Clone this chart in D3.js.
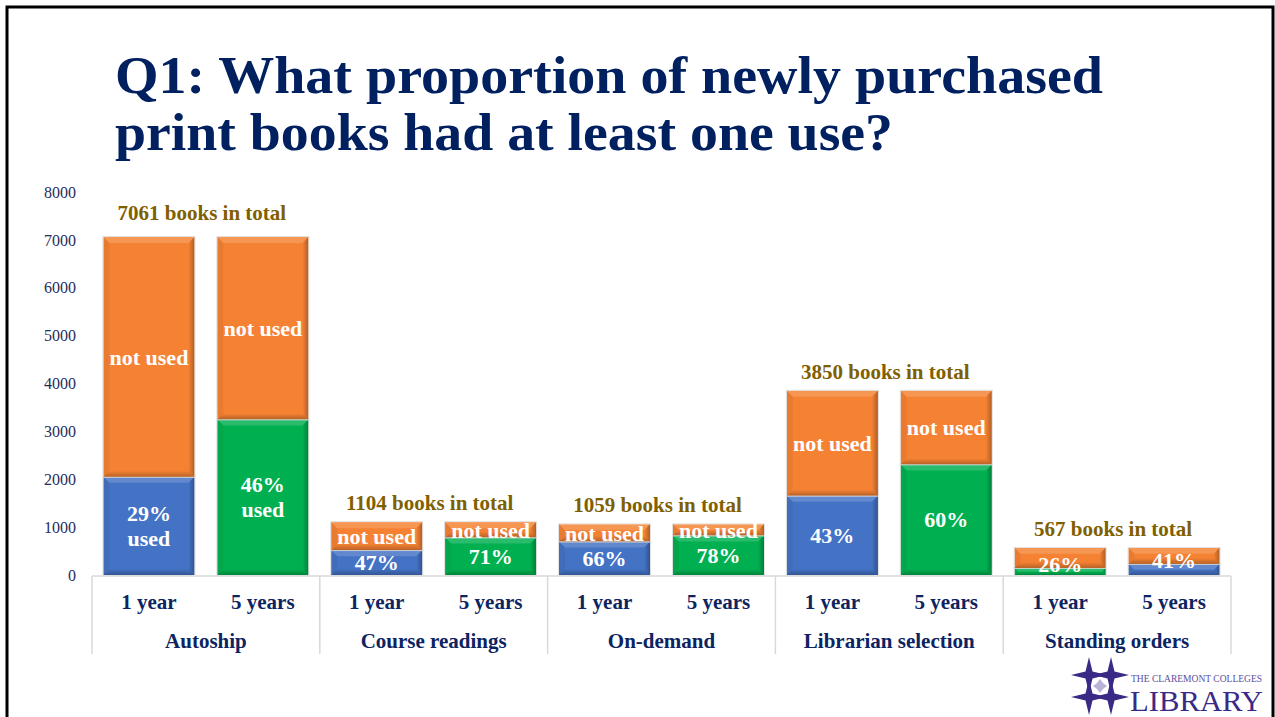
<!DOCTYPE html>
<html>
<head>
<meta charset="utf-8">
<script src="https://cdn.jsdelivr.net/npm/d3@7"></script>
<style>
  body { margin: 0; background: #fff; }
  svg { display: block; }
  text { font-family: "Liberation Serif", "Times New Roman", serif; }
</style>
</head>
<body>
<svg id="chart" width="1275" height="717"></svg>
<script>
// chart values
var groups = ["Autoship", "Course readings", "On-demand", "Librarian selection", "Standing orders"];
var periods = ["1 year", "5 years"];
var totals = [7061, 1104, 1059, 3850, 567];
// books with at least one use, [1 year, 5 years]
var usedCounts = [[2050, 3250], [519, 784], [699, 826], [1656, 2310], [147, 232]];
var usedLabels = [["29%|used", "46%|used"], ["47%", "71%"], ["66%", "78%"], ["43%", "60%"], ["26%", "41%"]];
var usedColors = [["blue", "green"], ["blue", "green"], ["blue", "green"], ["blue", "green"], ["green", "blue"]];
var showNotUsed = [true, true, true, true, false];
var yTicks = [0, 1000, 2000, 3000, 4000, 5000, 6000, 7000, 8000];

var palette = { blue: "#4472C4", green: "#00B050", orange: "#F58233" };
var navy = "#0C2461";

var svg = d3.select("#chart");

// slide frame
svg.append("rect")
    .attr("x", 7).attr("y", 7)
    .attr("width", 1266).attr("height", 800)
    .attr("fill", "none")
    .attr("stroke", "#000")
    .attr("stroke-width", 3);

// title
var title = ["Q1: What proportion of newly purchased", "print books had at least one use?"];
var titleWidths = [988, 778];
svg.selectAll(".title")
    .data(title)
  .enter().append("text")
    .attr("class", "title")
    .attr("x", 115)
    .attr("y", function(d, i) { return 93 + i * 57; })
    .attr("textLength", function(d, i) { return titleWidths[i]; })
    .attr("lengthAdjust", "spacingAndGlyphs")
    .style("font-size", "53px")
    .style("font-weight", "bold")
    .style("fill", "#002060")
    .text(function(d) { return d; });

var margin = {left: 92, right: 1231, top: 192, bottom: 575};

var y = d3.scaleLinear()
    .domain([0, 8000])
    .range([margin.bottom, margin.top]);

var x0 = d3.scaleBand()
    .domain(groups)
    .range([margin.left, margin.right]);

var x1 = d3.scaleBand()
    .domain(periods)
    .range([0, x0.bandwidth()])
    .paddingInner(0.2)
    .paddingOuter(0.1);

// y axis, labels only
var yAxis = d3.axisLeft(y)
    .tickValues(yTicks)
    .tickFormat(d3.format("d"))
    .tickSize(0)
    .tickPadding(16);

var gy = svg.append("g")
    .attr("transform", "translate(" + margin.left + ",0)")
    .call(yAxis);
gy.select(".domain").remove();
gy.selectAll("text")
    .style("font-family", "'Liberation Serif', serif")
    .style("font-size", "16px")
    .style("fill", "#1F2D5A");

// x axis line and group dividers
svg.append("line")
    .attr("x1", margin.left).attr("x2", margin.right)
    .attr("y1", y(0) + 1).attr("y2", y(0) + 1)
    .style("stroke", "#D9D9D9")
    .style("stroke-width", 1.5);

var dividers = groups.map(function(g) { return x0(g); }).concat([margin.right]);
svg.selectAll(".divider")
    .data(dividers)
  .enter().append("line")
    .attr("class", "divider")
    .attr("x1", function(d) { return d; })
    .attr("x2", function(d) { return d; })
    .attr("y1", y(0) + 1)
    .attr("y2", 654)
    .style("stroke", "#D9D9D9")
    .style("stroke-width", 1.5);

// build a flat list of bars
var bars = [];
groups.forEach(function(g, gi) {
  periods.forEach(function(p, pi) {
    bars.push({
      group: g, period: p, gi: gi, pi: pi,
      total: totals[gi],
      used: usedCounts[gi][pi],
      usedLabel: usedLabels[gi][pi],
      color: palette[usedColors[gi][pi]],
      notUsedLabel: showNotUsed[gi]
    });
  });
});

// soft shading for the bevel
var defs = svg.append("defs");
var gh = defs.append("linearGradient").attr("id", "bevelH")
    .attr("x1", 0).attr("x2", 1).attr("y1", 0).attr("y2", 0);
gh.append("stop").attr("offset", 0).attr("stop-color", "#000").attr("stop-opacity", 0);
gh.append("stop").attr("offset", 1).attr("stop-color", "#000").attr("stop-opacity", 0.28);
var gv = defs.append("linearGradient").attr("id", "bevelV")
    .attr("x1", 0).attr("x2", 0).attr("y1", 0).attr("y2", 1);
gv.append("stop").attr("offset", 0).attr("stop-color", "#000").attr("stop-opacity", 0);
gv.append("stop").attr("offset", 1).attr("stop-color", "#000").attr("stop-opacity", 0.25);

// draw a bevelled rectangle
function bevelRect(sel, x, y0, w, h, fill) {
  var b = Math.min(6, h / 2);
  var g = sel.append("g");
  g.append("rect")
      .attr("x", x).attr("y", y0)
      .attr("width", w).attr("height", h)
      .attr("fill", fill);
  var x2 = x + w, y2 = y0 + h;
  var edges = [
    {pts: [[x, y0], [x2, y0], [x2 - b, y0 + b], [x + b, y0 + b]], c: "#fff", o: 0.16},
    {pts: [[x, y0], [x + b, y0 + b], [x + b, y2 - b], [x, y2]], c: "#000", o: 0.05}
  ];
  g.selectAll("polygon")
      .data(edges)
    .enter().append("polygon")
      .attr("points", function(d) { return d.pts.join(" "); })
      .attr("fill", function(d) { return d.c; })
      .attr("fill-opacity", function(d) { return d.o; });
  g.append("polygon")
      .attr("points", [[x2, y0], [x2, y2], [x2 - b, y2 - b], [x2 - b, y0 + b]].join(" "))
      .attr("fill", "url(#bevelH)");
  g.append("polygon")
      .attr("points", [[x, y2], [x + b, y2 - b], [x2 - b, y2 - b], [x2, y2]].join(" "))
      .attr("fill", "url(#bevelV)");
  g.append("rect")
      .attr("x", x - 0.5).attr("y", y0 - 0.5)
      .attr("width", w + 1).attr("height", h + 1)
      .attr("fill", "none")
      .attr("stroke", "#DCDCDC")
      .attr("stroke-width", 0.8);
}

var barG = svg.append("g");
bars.forEach(function(d) {
  var bx = x0(d.group) + x1(d.period);
  var bw = x1.bandwidth();
  // used part
  bevelRect(barG, bx, y(d.used), bw, y(0) - y(d.used), d.color);
  // not used part
  bevelRect(barG, bx, y(d.total), bw, y(d.used) - y(d.total), palette.orange);
});

// labels inside the bars
var labelStyle = function(t) {
  t.attr("text-anchor", "middle")
   .style("font-size", "22px")
   .style("font-weight", "bold")
   .style("fill", "#fff");
};

bars.forEach(function(d) {
  var cx = x0(d.group) + x1(d.period) + x1.bandwidth() / 2;
  if (d.notUsedLabel) {
    var my = (y(d.total) + y(d.used)) / 2;
    svg.append("text")
        .call(labelStyle)
        .attr("x", cx)
        .attr("y", my)
        .attr("dy", "0.35em")
        .text("not used");
  }
  var lines = d.usedLabel.split("|");
  var uy = (y(d.used) + y(0)) / 2;
  if (d.gi === 4) uy = y(d.used) - 4;
  var t = svg.append("text")
      .call(labelStyle)
      .attr("x", cx)
      .attr("y", uy - (lines.length - 1) * 12.5)
      .attr("dy", "0.35em");
  lines.forEach(function(l, i) {
    t.append("tspan")
        .attr("x", cx)
        .attr("dy", i === 0 ? "0.35em" : "25")
        .text(l);
  });
});

// totals above each group
svg.selectAll(".total")
    .data(groups)
  .enter().append("text")
    .attr("class", "total")
    .attr("x", function(d) { return x0(d) + x0.bandwidth() / 2 - 4; })
    .attr("y", function(d, i) { return y(totals[i]) - (i === 0 ? 17 : 12); })
    .attr("text-anchor", "middle")
    .style("font-size", "21px")
    .style("font-weight", "bold")
    .style("fill", "#7F6000")
    .text(function(d, i) { return totals[i] + " books in total"; });

// period labels
svg.selectAll(".period")
    .data(bars)
  .enter().append("text")
    .attr("class", "period")
    .attr("x", function(d) { return x0(d.group) + x1(d.period) + x1.bandwidth() / 2; })
    .attr("y", 609)
    .attr("text-anchor", "middle")
    .style("font-size", "21px")
    .style("font-weight", "bold")
    .style("fill", navy)
    .text(function(d) { return d.period; });

// group labels
svg.selectAll(".group")
    .data(groups)
  .enter().append("text")
    .attr("class", "group")
    .attr("x", function(d) { return x0(d) + x0.bandwidth() / 2; })
    .attr("y", 648)
    .attr("text-anchor", "middle")
    .style("font-size", "21px")
    .style("font-weight", "bold")
    .style("fill", navy)
    .text(function(d) { return d; });

// library logo
var logo = svg.append("g").attr("transform", "translate(1100,686)");
var starPts = function(cx, cy, r, w) {
  return [[cx, cy - r], [cx + w, cy - w], [cx + r, cy], [cx + w, cy + w],
          [cx, cy + r], [cx - w, cy + w], [cx - r, cy], [cx - w, cy - w]].join(" ");
};
[[-11, -11], [11, -11], [-11, 11], [11, 11]].forEach(function(p) {
  logo.append("polygon")
      .attr("points", starPts(p[0], p[1], 18, 3.5))
      .attr("fill", "#3A2A86");
});
logo.append("polygon")
    .attr("points", starPts(0, 0, 7, 3))
    .attr("fill", "#B9B3D6");
svg.append("text")
    .attr("x", 1131).attr("y", 682)
    .attr("textLength", 131)
    .attr("lengthAdjust", "spacingAndGlyphs")
    .style("font-size", "10px")
    .style("fill", "#5C4F9E")
    .text("THE CLAREMONT COLLEGES");
svg.append("text")
    .attr("x", 1130).attr("y", 711)
    .attr("textLength", 133)
    .attr("lengthAdjust", "spacingAndGlyphs")
    .style("font-size", "30px")
    .style("fill", "#3A2A86")
    .text("LIBRARY");
</script>
</body>
</html>
